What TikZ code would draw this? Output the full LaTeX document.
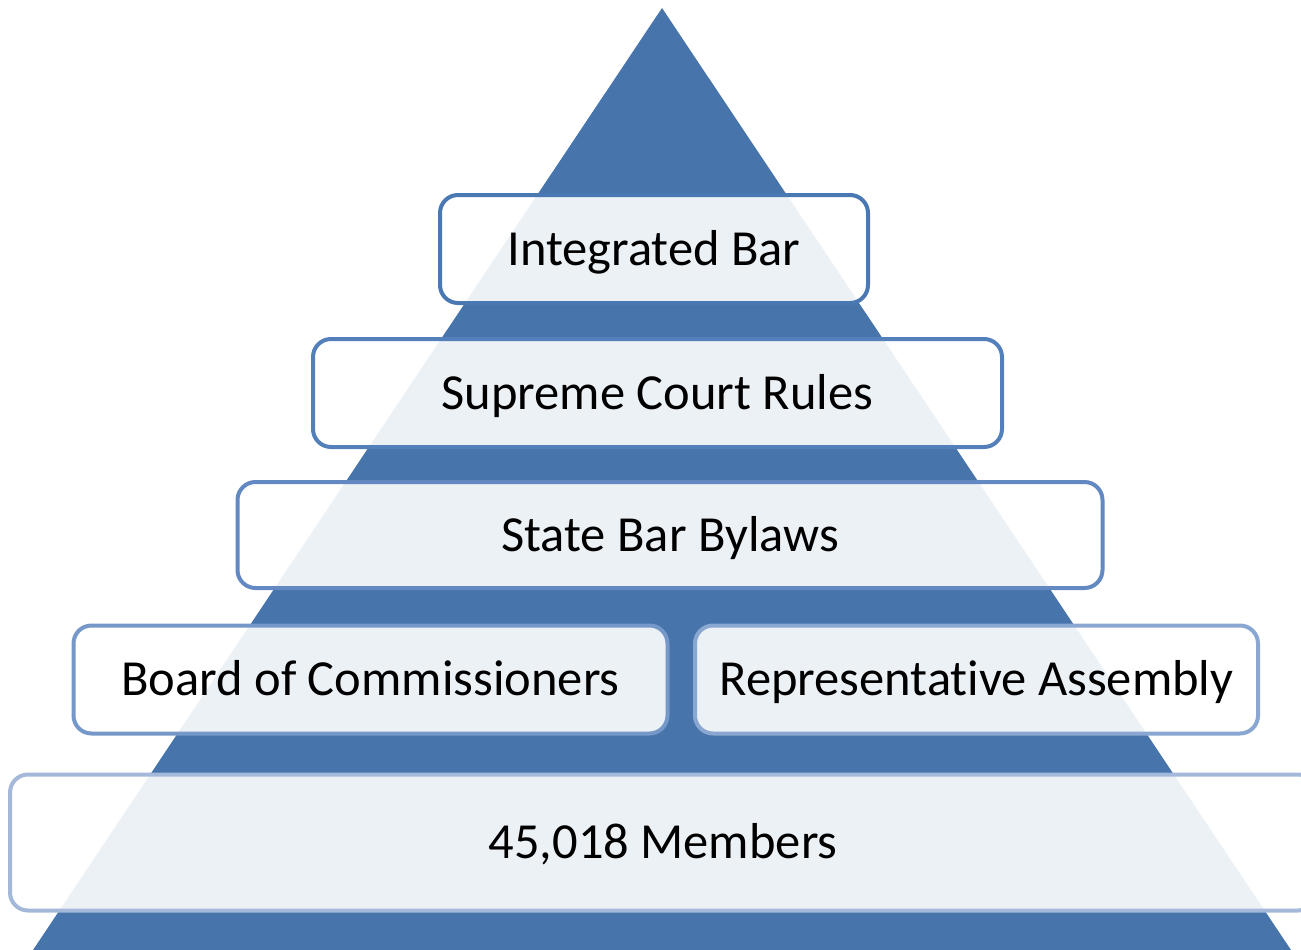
\documentclass[tikz,border=0pt]{standalone}
\usepackage{fontspec}
\setmainfont[Ligatures={NoCommon,NoContextual}]{Carlito}
\definecolor{tri}{HTML}{4774AB}
\definecolor{bA}{HTML}{4A78B2}
\definecolor{bB}{HTML}{5380BA}
\definecolor{bC}{HTML}{6289C1}
\definecolor{bD}{HTML}{7598C9}
\definecolor{bE}{HTML}{8AA7D1}
\definecolor{bF}{HTML}{A4B8D9}
\begin{document}
\begin{tikzpicture}[x=1pt,y=-1pt,
  tier/.style={rectangle, rounded corners=18pt, line width=4pt, fill=white, fill opacity=0.9, text opacity=1, text=black, font=\fontsize{50.5}{56}\selectfont, inner sep=0pt, text height=40pt, text depth=8pt, anchor=center}]
\useasboundingbox (0,0) rectangle (1301,950);
\begin{scope}
\clip (0,0) rectangle (1301,950);
\fill[tri] (662,8) -- (33,950) -- (1291,950) -- cycle;
\node[tier, draw=bA, minimum width=428pt, minimum height=108pt] (ib) at (654,249) {Integrated Bar};
\node[tier, draw=bB, minimum width=689pt, minimum height=108pt] (sc) at (657.5,393) {Supreme Court Rules};
\node[tier, draw=bC, minimum width=865pt, minimum height=106pt] (sb) at (670,535) {State Bar Bylaws};
\node[tier, draw=bD, minimum width=594pt, minimum height=108pt] (bc) at (370.5,679.5) {Board of Commissioners};
\node[tier, draw=bE, minimum width=563pt, minimum height=108pt] (ra) at (976.5,679.5) {Representat\kern0pt ive Assembly};
\node[tier, draw=bF, minimum width=1306pt, minimum height=136pt] (mb) at (663,842.5) {45,018 Members};
\end{scope}
\end{tikzpicture}
\end{document}
